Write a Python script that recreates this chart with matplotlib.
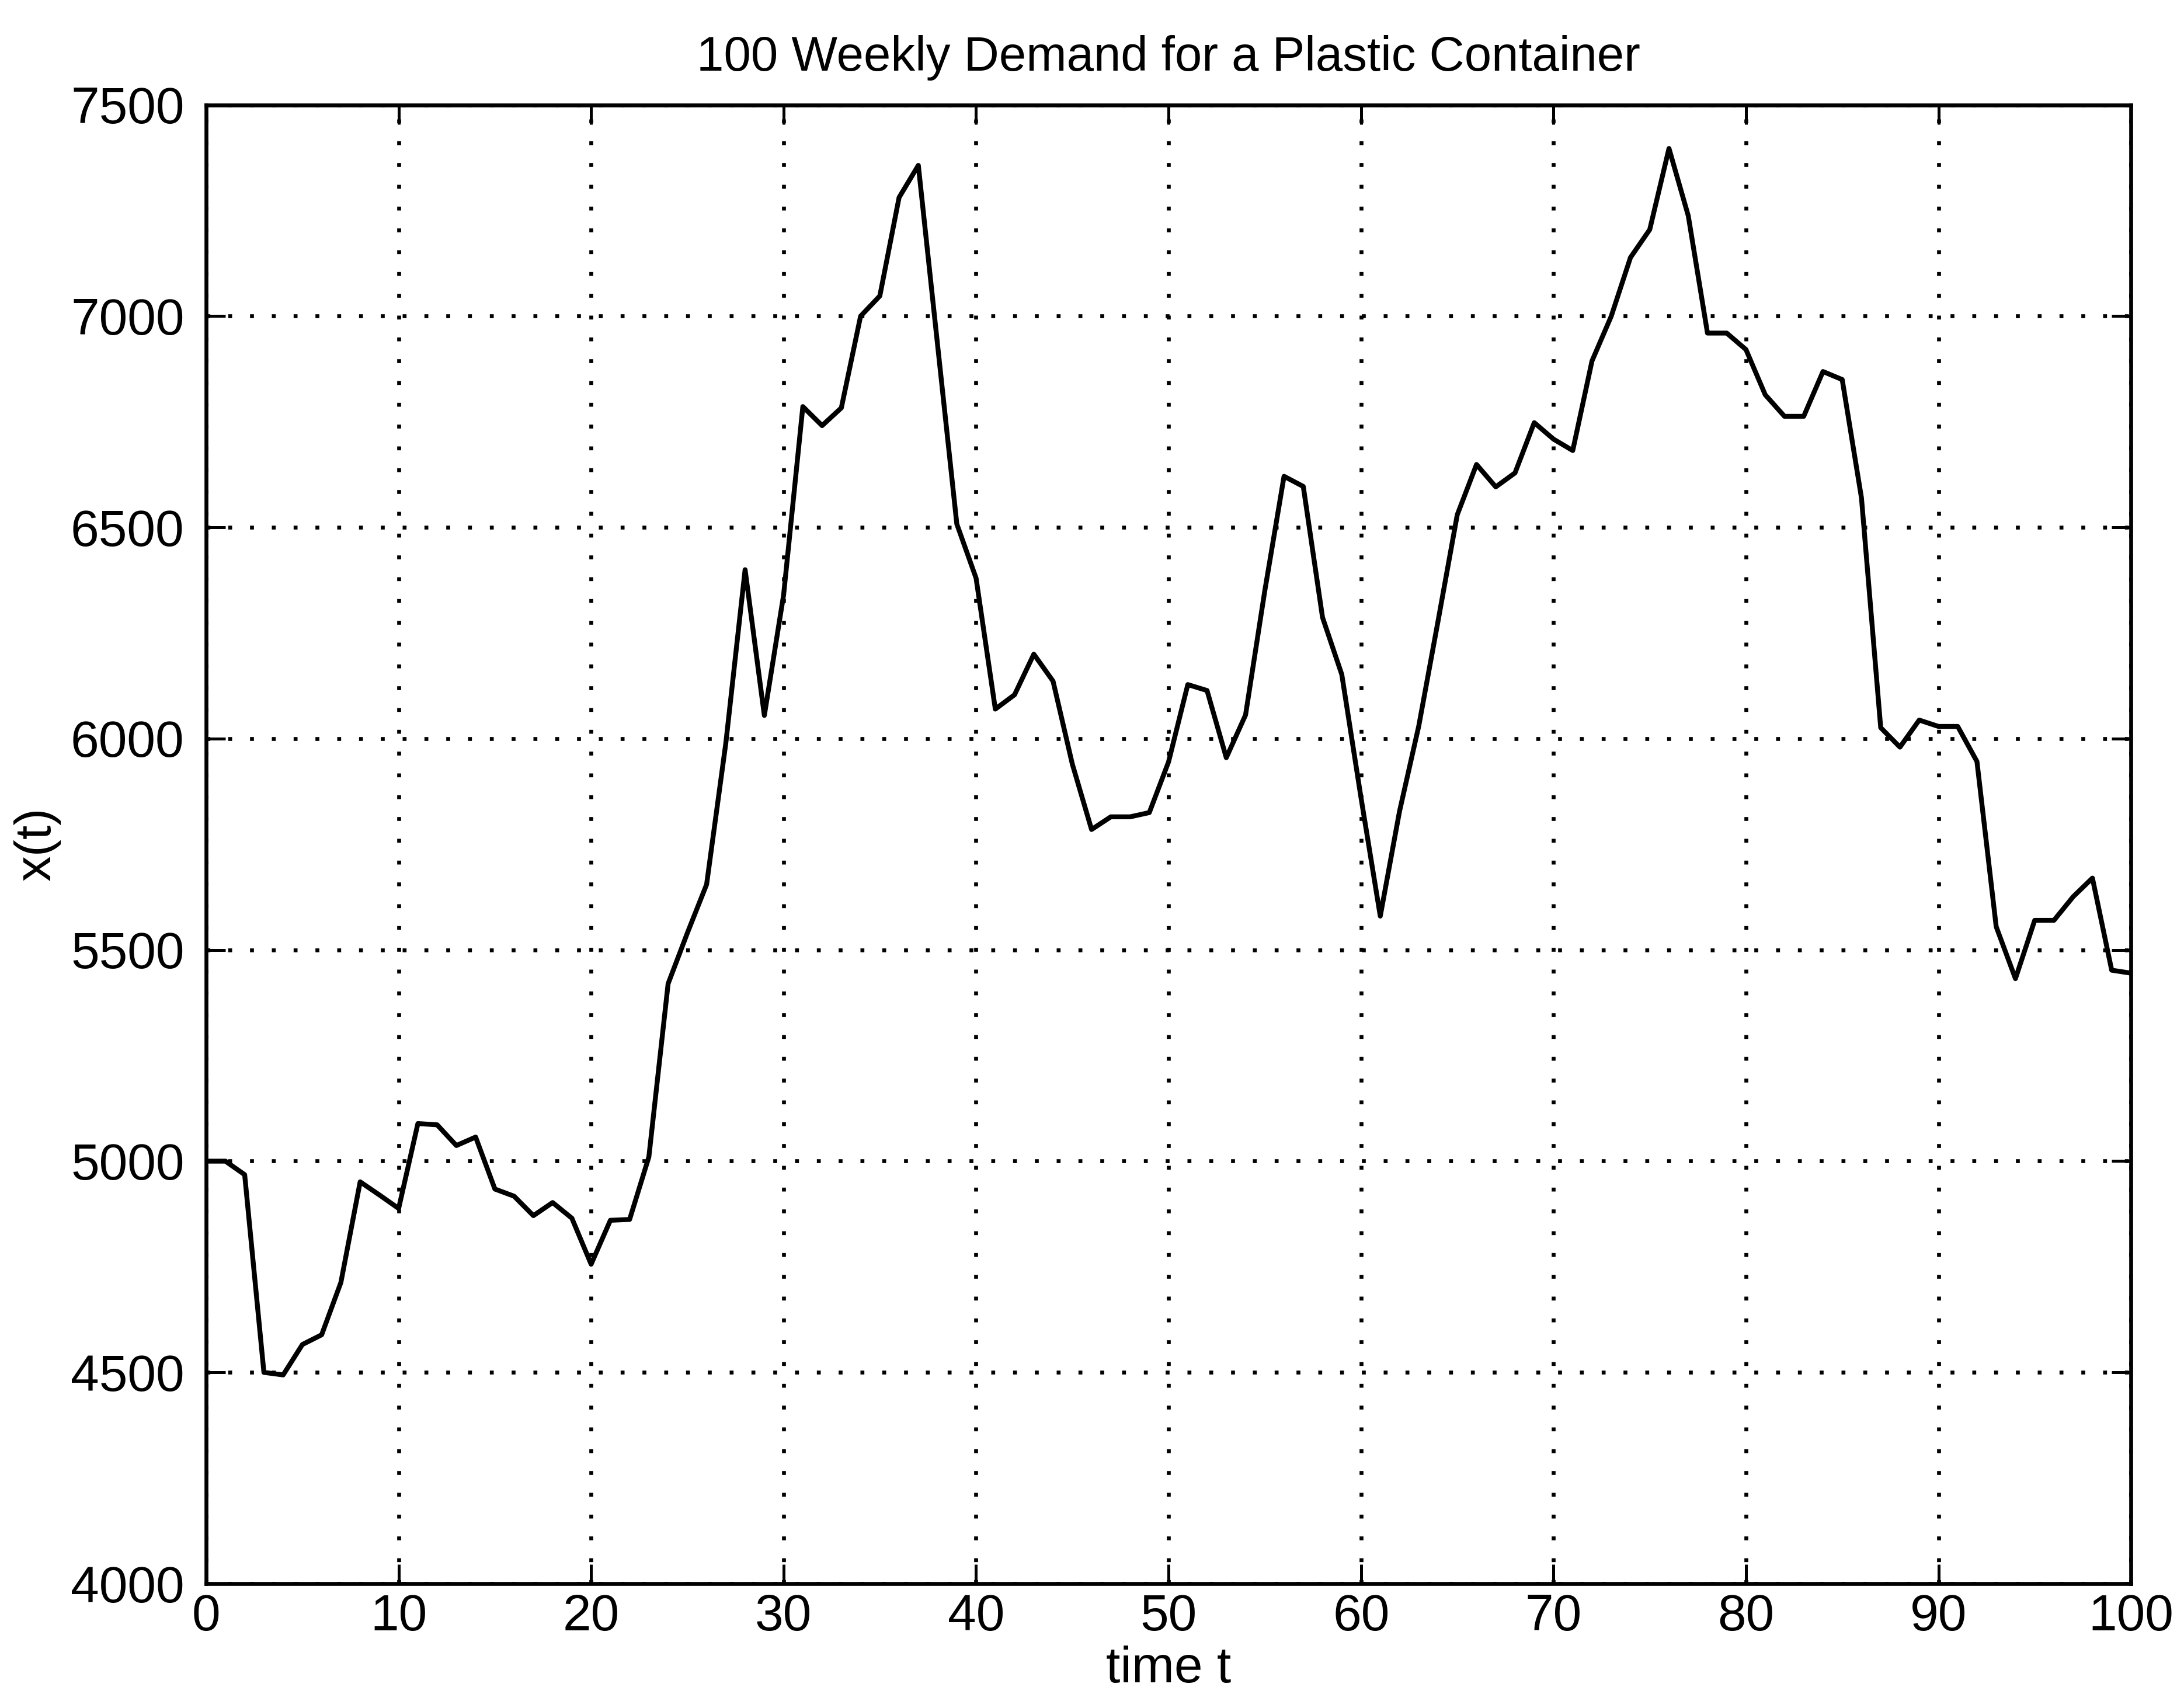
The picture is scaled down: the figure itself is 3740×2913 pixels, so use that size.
import numpy as np
import matplotlib.pyplot as plt

# weekly demand readings, t = 0..100
weeks = np.arange(0, 101)
demand = [
    5000, 5000, 4968, 4500, 4494, 4566, 4589, 4713, 4951, 4920,
    4888, 5089, 5086, 5037, 5057, 4934, 4917, 4871, 4902, 4865,
    4756, 4860, 4862, 5010, 5420, 5540, 5655, 5990, 6400, 6055,
    6340, 6786, 6741, 6783, 7000, 7048, 7281, 7357, 6932, 6508,
    6380, 6070, 6104, 6200, 6136, 5940, 5785, 5815, 5815, 5825,
    5945, 6128, 6114, 5955, 6056, 6350, 6621, 6597, 6287, 6152,
    5860, 5580, 5828, 6030, 6278, 6530, 6649, 6596, 6629, 6748,
    6709, 6682, 6894, 7000, 7139, 7205, 7397, 7238, 6960, 6960,
    6921, 6814, 6763, 6763, 6869, 6850, 6570, 6026, 5980, 6044,
    6029, 6029, 5946, 5555, 5432, 5570, 5570, 5626, 5670, 5452,
    5445,
]
xticks = list(range(0, 101, 10))
yticks = list(range(4000, 7501, 500))

plt.rcParams['font.family'] = ['Liberation Sans', 'DejaVu Sans']

fig = plt.figure(figsize=(3740 / 300, 2913 / 300), dpi=300)
ax = fig.add_axes([0.0944, 0.069, 0.8813, 0.8693])

ax.plot(weeks, demand, color='black', linewidth=2.0)

ax.set_xlim(0, 100)
ax.set_ylim(4000, 7500)
ax.set_xticks(xticks)
ax.set_yticks(yticks)
ax.tick_params(direction='in', length=8, width=1.2, labelsize=21,
               top=True, right=True, colors='black')
ax.tick_params(axis='x', pad=4)
ax.tick_params(axis='y', pad=9)
for s in ax.spines.values():
    s.set_linewidth(1.6)

ax.grid(True, color='black', linestyle=(0, (1.0, 4.6)), linewidth=1.6)

ax.set_title('100 Weekly Demand for a Plastic Container', fontsize=20, pad=14)
ax.set_xlabel('time t', fontsize=21, labelpad=2)
ax.set_ylabel('x(t)', fontsize=21, labelpad=4)

fig.savefig('out.png', dpi=300)
